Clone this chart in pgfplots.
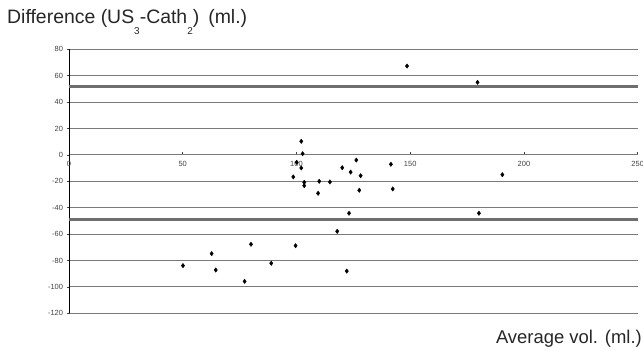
\documentclass[border=0pt]{standalone}
\usepackage{pgfplots}
\pgfplotsset{compat=1.18}
\usepackage{fontspec}
\setmainfont{Liberation Sans}
\definecolor{gridc}{HTML}{7A7A7A}
\definecolor{limc}{HTML}{6E6E6E}
\definecolor{tickc}{HTML}{404040}
\begin{document}
\begin{tikzpicture}
\path[use as bounding box] (-69bp,-37.7bp) rectangle (574bp,313.3bp);
\begin{axis}[
  at={(0,0)}, anchor=south west,
  scale only axis, width=568.7bp, height=264bp,
  xmin=0, xmax=250, ymin=-120, ymax=80,
  axis x line=middle, axis y line=left,
  x axis line style={-, gridc, line width=0.8bp},
  y axis line style={-, black, line width=0.6bp},
  xtick={0,50,...,250}, ytick={-120,-100,...,80},
  hide obscured x ticks=false,
  ymajorgrids, grid style={gridc, line width=0.8bp},
  major tick length=3bp,
  xtick align=inside,
  tick style={tickc, line width=0.5bp},
  /pgf/number format/assume math mode=true,
  ticklabel style={font=\fontsize{7.5}{8}\selectfont, text=tickc},
  yticklabel style={xshift=-1bp},
  xticklabel style={yshift=-3bp},
  clip=false,
]
\addplot[limc, line width=3bp, forget plot] coordinates {(0,51.7) (250,51.7)};
\addplot[limc, line width=3bp, forget plot] coordinates {(0,-49.3) (250,-49.3)};
\addplot[only marks, mark=diamond*, mark size=2.2bp, black] coordinates {
(102.1,10.3) (102.7,0.9) (100.1,-5.6) (102.1,-9.9) (98.6,-16.7)
(103.4,-20.8) (103.4,-23.3) (110.0,-20.0) (109.5,-29.1)
(148.6,67.3) (179.6,55.0) (126.3,-3.9) (141.5,-7.1) (120.1,-9.7)
(123.8,-13.0) (128.2,-15.8) (190.5,-15.0) (114.7,-20.5) (127.6,-26.8)
(142.3,-25.8) (123.1,-44.2) (180.2,-44.2) (117.9,-57.9) (99.6,-68.8)
(122.1,-88.0) (50.1,-83.9) (62.7,-74.8) (64.5,-87.2) (77.2,-95.8)
(80.0,-67.7) (88.9,-82.1)
};
\end{axis}
\node[anchor=base west, inner sep=0pt, font=\fontsize{19.5}{22}\selectfont, text=black!85]
  at (-62bp,289.3bp) {Difference (US\raisebox{-11bp}{\fontsize{10}{11}\selectfont 3}-Cath\raisebox{-11bp}{\fontsize{10}{11}\selectfont 2})\hspace{9bp}(ml.)};
\node[anchor=base east, inner sep=0pt, font=\fontsize{18.5}{22}\selectfont, text=black!85]
  at (573bp,-29.7bp) {Average vol. (ml.)};
\end{tikzpicture}
\end{document}
